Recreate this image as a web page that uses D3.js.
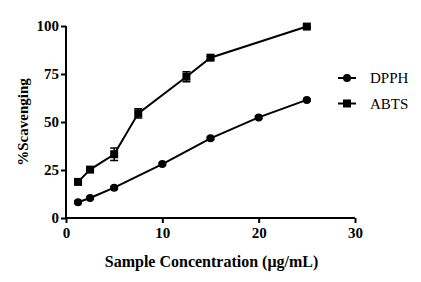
<!DOCTYPE html>
<html>
<head>
<meta charset="utf-8">
<script src="https://cdn.jsdelivr.net/npm/d3@7"></script>
<style>
  body { margin: 0; background: #fff; }
  svg { display: block; }
</style>
</head>
<body>
<script>
// sample concentrations (µg/mL)
const dpphX = [1.25, 2.5, 5, 10, 15, 20, 25];
const dpphY = [8.2, 10.4, 15.8, 28.1, 41.5, 52.4, 61.5];
const dpphErr = [0.6, 0.6, 0.6, 0.6, 0.6, 0.6, 0.6];

const abtsX = [1.25, 2.5, 5, 7.5, 12.5, 15, 25];
const abtsY = [18.8, 25.2, 33.2, 54.5, 73.6, 83.5, 99.7];
const abtsErr = [0.8, 0.8, 3.2, 2.4, 2.6, 0.8, 0.6];

const xTicks = [0, 10, 20, 30];
const yTicks = [0, 25, 50, 75, 100];
const seriesNames = ["DPPH", "ABTS"];

const width = 421, height = 282;
const margin = {top: 26, right: 66, bottom: 64, left: 66};
const serif = '"Liberation Serif"';

const svg = d3.select("body").append("svg")
    .attr("width", width)
    .attr("height", height);

const x = d3.scaleLinear().domain([0, 30]).range([margin.left, width - margin.right]);
const y = d3.scaleLinear().domain([0, 100]).range([height - margin.bottom, margin.top]);

// axes
const xAxis = d3.axisBottom(x).tickValues(xTicks).tickSize(5).tickPadding(4);
const yAxis = d3.axisLeft(y).tickValues(yTicks).tickSize(5).tickPadding(2);

svg.append("g")
    .attr("transform", `translate(0,${y(0)})`)
    .call(xAxis)
    .call(g => g.select(".domain").attr("stroke-width", 2).attr("d", `M${x(0)},0H${x(30)}`))
    .call(g => g.selectAll(".tick line").attr("stroke-width", 2))
    .call(g => g.selectAll("text").style("font-family", serif).style("font-weight", "bold")
        .style("font-size", "15px").attr("fill", "#000"));

svg.append("g")
    .attr("transform", `translate(${x(0)},0)`)
    .call(yAxis)
    .call(g => g.select(".domain").attr("stroke-width", 2).attr("d", `M0,${y(0)}V${y(100)}`))
    .call(g => g.selectAll(".tick line").attr("stroke-width", 2))
    .call(g => g.selectAll("text").style("font-family", serif).style("font-weight", "bold")
        .style("font-size", "15px").attr("fill", "#000"));

// axis titles
svg.append("text")
    .attr("x", (x(0) + x(30)) / 2 + 1)
    .attr("y", 267)
    .attr("text-anchor", "middle")
    .style("font-family", serif)
    .style("font-weight", "bold")
    .style("font-size", "16px")
    .text("Sample Concentration (μg/mL)");

svg.append("text")
    .attr("transform", `translate(28,${(y(0) + y(100)) / 2}) rotate(-90)`)
    .attr("text-anchor", "middle")
    .style("font-family", serif)
    .style("font-weight", "bold")
    .style("font-size", "15px")
    .text("%Scavenging");

const line = d3.line().x(d => x(d[0])).y(d => y(d[1]));

function drawSeries(xs, ys, errs, shape) {
  const pts = xs.map((v, i) => [v, ys[i], errs[i]]);
  const g = svg.append("g");
  g.append("path")
      .attr("d", line(pts))
      .attr("fill", "none")
      .attr("stroke", "#000")
      .attr("stroke-width", 2);
  // error bars
  g.selectAll(".err").data(pts).join("path")
      .attr("d", d => `M${x(d[0])},${y(d[1] - d[2])}V${y(d[1] + d[2])}` +
          `M${x(d[0]) - 4},${y(d[1] - d[2])}h8M${x(d[0]) - 4},${y(d[1] + d[2])}h8`)
      .attr("stroke", "#000")
      .attr("stroke-width", 1.5)
      .attr("fill", "none");
  if (shape === "circle") {
    g.selectAll("circle").data(pts).join("circle")
        .attr("cx", d => x(d[0]))
        .attr("cy", d => y(d[1]))
        .attr("r", 4);
  } else {
    g.selectAll("rect.m").data(pts).join("rect")
        .attr("x", d => x(d[0]) - 4)
        .attr("y", d => y(d[1]) - 4)
        .attr("width", 8)
        .attr("height", 8);
  }
}

drawSeries(dpphX, dpphY, dpphErr, "circle");
drawSeries(abtsX, abtsY, abtsErr, "square");

// legend
const legend = svg.append("g").attr("transform", "translate(338,78)");
seriesNames.forEach((name, i) => {
  const row = legend.append("g").attr("transform", `translate(0,${i * 25.5})`);
  row.append("line").attr("x1", 0).attr("x2", 18).attr("stroke", "#000").attr("stroke-width", 2);
  if (i === 0) row.append("circle").attr("cx", 9).attr("r", 4);
  else row.append("rect").attr("x", 5).attr("y", -4).attr("width", 8).attr("height", 8);
  row.append("text")
      .attr("x", 32)
      .attr("dy", "0.35em")
      .style("font-family", serif)
      .style("font-size", "15px")
      .text(name);
});
</script>
</body>
</html>
